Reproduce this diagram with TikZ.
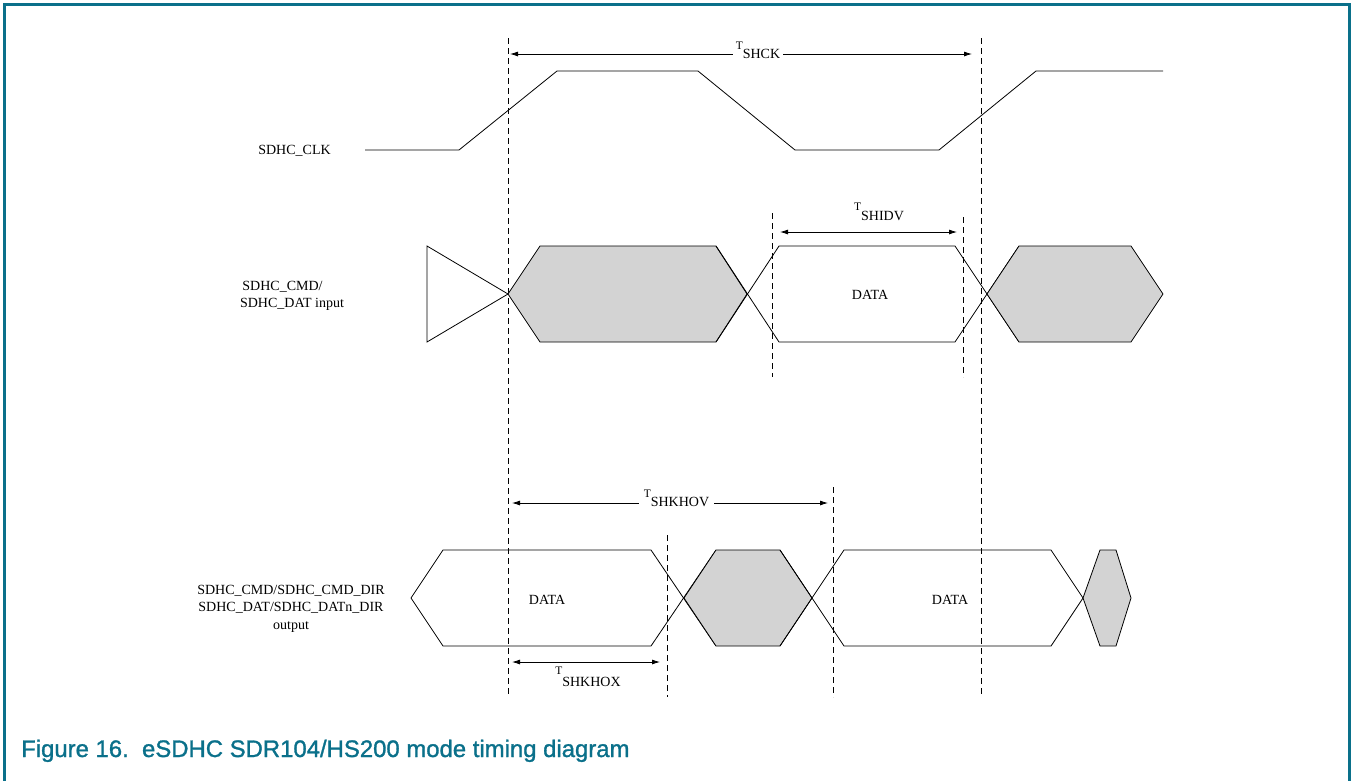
\documentclass[tikz,border=0pt]{standalone}
\usepackage{fontspec}
\setmainfont{Liberation Serif}
\newfontfamily\capfont[FakeBold=1.2]{Liberation Sans}
\usetikzlibrary{arrows.meta}
\definecolor{nxpteal}{RGB}{10,112,138}
\definecolor{busgray}{RGB}{211,211,211}
\newcommand\tsublabel[2][9pt]{\raisebox{#1}{\fontsize{11.5}{11.5}\selectfont T}#2}
\begin{document}
\begin{tikzpicture}[x=1pt,y=-1pt,
  sig/.style={line width=0.8pt, line join=miter},
  busfill/.style={fill=busgray, draw=black, line width=0.8pt},
  guide/.style={line width=0.8pt, dash pattern=on 6pt off 4pt},
  dim/.style={line width=0.8pt, {Latex[length=8pt,width=5pt]}-{Latex[length=8pt,width=5pt]}},
  lbl/.style={font=\fontsize{14}{17}\selectfont, inner sep=0pt},
  ]
\useasboundingbox (0,0) rectangle (1352,780);
\draw[nxpteal, line width=2.6pt] (4.5,4.5) rectangle (1349.5,830);

% guides
\coordinate (g1t) at (508,38);  \coordinate (g1b) at (508,695);
\coordinate (g2t) at (981,38);  \coordinate (g2b) at (981,695);
\coordinate (g3t) at (772,213); \coordinate (g3b) at (772,377);
\coordinate (g4t) at (963,217); \coordinate (g4b) at (963,377);
\coordinate (g5t) at (833,487); \coordinate (g5b) at (833,697);
\coordinate (g6t) at (667,535); \coordinate (g6b) at (667,697);
\foreach \a/\b in {g1t/g1b,g2t/g2b,g3t/g3b,g4t/g4b,g5t/g5b,g6t/g6b}
  \draw[guide] (\a) -- (\b);

% clock
\draw[sig] (365,150) -- (459,150) -- (557,71) -- (698,71) -- (795,150) -- (939,150) -- (1036,71) -- (1163,71);

% input row
\draw[sig] (427,246) -- (508,294) -- (427,342) -- cycle;
\filldraw[busfill] (508,294) -- (540,246) -- (716,246) -- (747,294) -- (716,342) -- (540,342) -- cycle;
\draw[sig] (716,342) -- (779,246) -- (955,246) -- (1019,342);
\draw[sig] (716,246) -- (779,342) -- (955,342) -- (1019,246);
\filldraw[busfill] (987,294) -- (1019,246) -- (1131,246) -- (1163,294) -- (1131,342) -- (1019,342) -- cycle;

% output row
\draw[sig] (411,598) -- (443,550) -- (651,550) -- (716,646);
\draw[sig] (411,598) -- (443,646) -- (651,646) -- (716,550);
\filldraw[busfill] (684,598) -- (716,550) -- (780,550) -- (812,598) -- (780,646) -- (716,646) -- cycle;
\draw[sig] (780,550) -- (844,646) -- (1051,646) -- (1083,598);
\draw[sig] (780,646) -- (844,550) -- (1051,550) -- (1083,598);
\filldraw[busfill] (1083,598) -- (1100,550) -- (1116,550) -- (1131,598) -- (1116,646) -- (1100,646) -- cycle;

% dimension arrows
\coordinate (a1l) at (510,54);  \coordinate (a1r) at (972,54);
\coordinate (a2l) at (780,232); \coordinate (a2r) at (957,232);
\coordinate (a3l) at (512,503); \coordinate (a3r) at (828,503);
\coordinate (a4l) at (512,662); \coordinate (a4r) at (660,662);
\draw[dim] (a1l) -- (a1r);
\draw[dim] (a2l) -- (a2r);
\draw[dim] (a3l) -- (a3r);
\draw[dim] (a4l) -- (a4r);

\node[lbl, anchor=base, fill=white, inner xsep=3pt, inner ysep=1pt] (tshck) at (758,58.3) {\tsublabel[8.5pt]{SHCK}};
\node[lbl, anchor=base] (tshidv) at (879,220.7) {\tsublabel[9.9pt]{SHIDV}};
\node[lbl, anchor=base, fill=white, inner xsep=5pt, inner ysep=1pt] (tshkhov) at (676.5,506) {\tsublabel[8.2pt]{SHKHOV}};
\node[lbl, anchor=base] (tshkhox) at (588,686) {\tsublabel[11.2pt]{SHKHOX}};

% signal labels
\node[lbl, anchor=base] (clk) at (294.5,154.3) {SDHC\_CLK};
\node[lbl, anchor=base, align=center] (inp) at (292,307.3) {SDHC\_CMD/\rule{19pt}{0pt}\\SDHC\_DAT input};
\node[lbl, anchor=base, align=center, font=\fontsize{14}{17.5}\selectfont] (outp) at (291,629) {SDHC\_CMD/SDHC\_CMD\_DIR\\SDHC\_DAT/SDHC\_DATn\_DIR\\output};

\node[lbl, anchor=base] (d1) at (870,299.3) {DATA};
\node[lbl, anchor=base] (d2) at (547,604) {DATA};
\node[lbl, anchor=base] (d3) at (950,604) {DATA};

% caption
\node[anchor=base west, inner sep=0pt, text=nxpteal, font=\capfont\fontsize{23.9}{28}\selectfont] (cap) at (21,757) {Figure 16.\ \ eSDHC SDR104/HS200 mode timing diagram};
\end{tikzpicture}
\end{document}
